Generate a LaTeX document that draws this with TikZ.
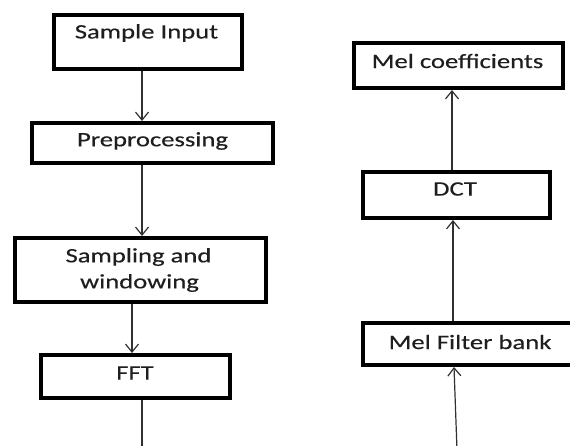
\documentclass[tikz,border=0pt]{standalone}
\usepackage{fontspec}
\setmainfont{Carlito}
\newfontfamily\lblfont{Carlito}[FakeBold=0.3]
\usetikzlibrary{arrows.meta}
\definecolor{txt}{HTML}{1E1E1E}
\definecolor{ln}{HTML}{303030}
\newcommand{\sx}[1]{\scalebox{1.3}[1]{#1}}
\tikzset{
  box/.style={draw=black, line width=4pt, inner sep=0pt, fill=white},
  lbl/.style={text=txt, inner sep=0pt, font=\lblfont\fontsize{20.5}{27}\selectfont, align=center},
  arr/.style={draw=ln, line width=1.2pt, -{Straight Barb[length=8pt,width=13pt,line width=1.2pt]}},
  plain/.style={draw=ln, line width=1.2pt}
}
\begin{document}
\begin{tikzpicture}[x=1pt,y=-1pt]
\useasboundingbox (0,0) rectangle (570,446);
\clip (0,0) rectangle (570,446);
% boxes
\node[box, minimum width=188pt, minimum height=54pt] (in) at (148,42) {};
\node[box, minimum width=241pt, minimum height=40pt] (pre) at (152.5,143) {};
\node[box, minimum width=251pt, minimum height=64pt] (samp) at (140.5,270) {};
\node[box, minimum width=189pt, minimum height=43pt] (fft) at (135.5,376.5) {};
\node[box, minimum width=209pt, minimum height=45pt] (melc) at (458.5,65.5) {};
\node[box, minimum width=187pt, minimum height=46pt] (dct) at (456.5,195) {};
\node[box, minimum width=226pt, minimum height=42pt] (mfb) at (476,344) {};
% labels
\node[lbl] (tin) at (146.5,33) {\sx{Sample Input}};
\node[lbl] (tpre) at (152.5,141) {\sx{Preprocessing}};
\node[lbl] (tsamp1) at (138.5,257) {\sx{Sampling and}};
\node[lbl] (tsamp2) at (139.5,283) {\sx{windowing}};
\node[lbl] (tfft) at (135,373) {\sx{FFT}};
\node[lbl] (tmelc) at (457.5,61) {\sx{Mel coefficients}};
\node[lbl] (tdct) at (455,189) {\sx{DCT}};
\node[lbl] (tmfb) at (470,342) {\sx{Mel Filter bank}};
% free ends
\coordinate (fftend) at (142,450);
\coordinate (mfbstart) at (457,450);
% connectors
\draw[arr] ([xshift=-6pt]in.south) -- ([xshift=-10.5pt]pre.north);
\draw[arr] ([xshift=-10.5pt]pre.south) -- ([xshift=1.5pt]samp.north);
\draw[arr] ([xshift=-8.5pt]samp.south) -- ([xshift=-3.5pt]fft.north);
\draw[plain] ([xshift=6.5pt]fft.south) -- (fftend);
\draw[arr] (mfbstart) -- ([xshift=-22pt]mfb.south);
\draw[arr] ([xshift=-23pt]mfb.north) -- ([xshift=-3.5pt]dct.south);
\draw[arr] ([xshift=-4.5pt]dct.north) -- ([xshift=-6.5pt]melc.south);
\end{tikzpicture}
\end{document}
